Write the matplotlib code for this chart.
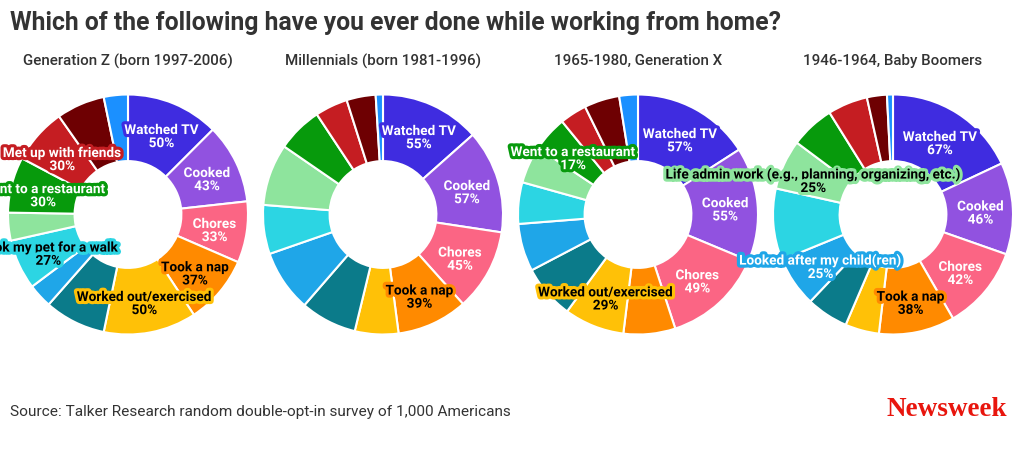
import matplotlib
matplotlib.use("Agg")
import matplotlib.pyplot as plt
import matplotlib.patheffects as pe
import numpy as np

W, H = 1020, 460

categories = ["Watched TV", "Cooked", "Chores", "Took a nap", "Worked out/exercised",
              "Other (teal)", "Looked after my child(ren)", "Took my pet for a walk",
              "Life admin work (e.g., planning, organizing, etc.)", "Went to a restaurant",
              "Met up with friends", "Other (dark red)", "Other (blue)"]

colors = ["#3f2ce0", "#9152e0", "#fb6584", "#ff8a00", "#ffc107",
          "#0b7b8a", "#1fa6e8", "#2cd5e3", "#8ee49d", "#079a0c",
          "#c51d22", "#6e0002", "#1b90ff"]

# dark text on the light slices, white on the others
text_colors = ["white", "white", "white", "black", "black",
               "white", "white", "black", "black", "white",
               "white", "white", "white"]

groups = ["Generation Z (born 1997-2006)", "Millennials (born 1981-1996)",
          "1965-1980, Generation X", "1946-1964, Baby Boomers"]

genz = [50, 43, 33, 37, 50, 33, 13, 27, 15, 30, 30, 26, 13]
millennials = [55, 57, 45, 39, 24, 31, 34, 27, 34, 25, 18, 16, 4]
genx = [57, 55, 49, 25, 29, 26, 23, 20, 18, 17, 13, 17, 9]
boomers = [67, 46, 42, 38, 17, 21, 25, 36, 25, 22, 20, 10, 3]

# slices that carry a label in each chart
genz_labels = ["Watched TV", "Cooked", "Chores", "Took a nap", "Worked out/exercised",
               "Took my pet for a walk", "Went to a restaurant", "Met up with friends"]
millennials_labels = ["Watched TV", "Cooked", "Chores", "Took a nap"]
genx_labels = ["Watched TV", "Cooked", "Chores", "Worked out/exercised", "Went to a restaurant"]
boomers_labels = ["Watched TV", "Cooked", "Chores", "Took a nap",
                  "Life admin work (e.g., planning, organizing, etc.)", "Looked after my child(ren)"]

series = [genz, millennials, genx, boomers]
shown = [genz_labels, millennials_labels, genx_labels, boomers_labels]
centers = [128, 383, 638, 893]

plt.rcParams['font.family'] = ['Roboto', 'DejaVu Sans']

fig = plt.figure(figsize=(W / 100, H / 100), dpi=100)
fig.patch.set_facecolor("white")

R_PX = 116.5
BOX = 150
cy = 215.5

for g, vals, labs, cx in zip(groups, series, shown, centers):
    ax = fig.add_axes([(cx - BOX) / W, 1 - (cy + BOX) / H, 2 * BOX / W, 2 * BOX / H])
    ax.set_xlim(-BOX / R_PX, BOX / R_PX)
    ax.set_ylim(-BOX / R_PX, BOX / R_PX)
    ax.set_aspect("equal")
    ax.axis("off")
    wedges, _ = ax.pie(vals, colors=colors, startangle=90, counterclock=False, radius=1,
                       wedgeprops=dict(width=0.555, edgecolor="white", linewidth=1.5))
    for w, name, v, col, tc in zip(wedges, categories, vals, colors, text_colors):
        if name not in labs:
            continue
        mid = (w.theta1 + w.theta2) / 2
        x = 0.73 * np.cos(np.radians(mid))
        y = 0.73 * np.sin(np.radians(mid)) - 0.025
        ax.text(x, y, f"{name}\n{v}%", ha="center", va="center", fontsize=9.8,
                fontweight="semibold", color=tc, linespacing=0.92, zorder=5,
                path_effects=[pe.withStroke(linewidth=4.5, foreground=col)])
    fig.text(cx / W, 1 - 61 / H, g, ha="center", va="center", fontsize=10.9,
             fontweight="medium", color="#333333")

fig.text(10 / W, 1 - 23 / H, "Which of the following have you ever done while working from home?",
         ha="left", va="center", fontsize=17.8, fontweight="bold", color="#333333")
fig.text(10 / W, 1 - 412 / H, "Source: Talker Research random double-opt-in survey of 1,000 Americans",
         ha="left", va="center", fontsize=11.1, color="#333333")
fig.text(1007 / W, 1 - 410 / H, "Newsweek", ha="right", va="center", fontsize=19.5,
         fontweight="bold", color="#e8150d", family="Liberation Serif")

fig.savefig("out.png", dpi=100, facecolor="white")
